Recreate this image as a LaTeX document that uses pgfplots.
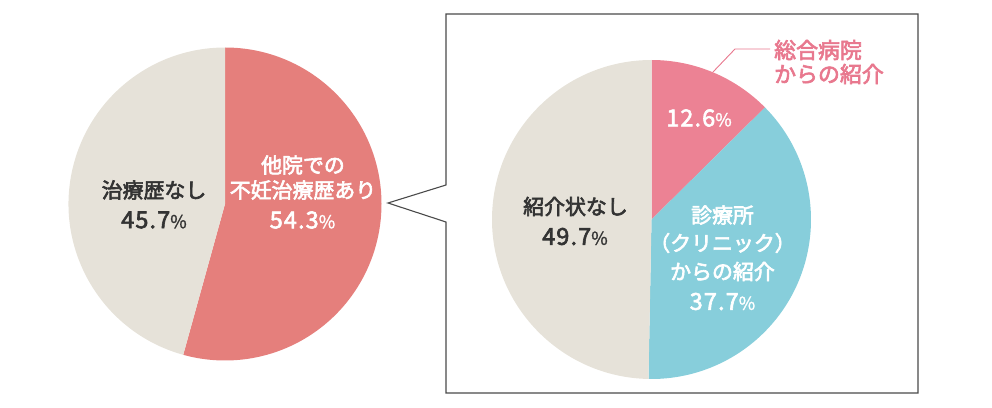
\documentclass[border=0pt]{standalone}
\usepackage{pgfplots}
\usepackage{pgfplotstable}
\pgfplotsset{compat=1.18}
\usepackage{fontspec}
\setmainfont{Noto Sans CJK JP}
\newfontfamily\jpmed{Noto Sans CJK JP}[FakeBold=3]
\newfontfamily\numfont{Noto Sans CJK JP}[FakeBold=2.6, LetterSpace=5]
\newfontfamily\pctfont{Noto Sans CJK JP}[FakeBold=1.2]

\definecolor{leftpink}{HTML}{E57F7C}
\definecolor{rightpink}{HTML}{EC8294}
\definecolor{skyblue}{HTML}{87CEDB}
\definecolor{beige}{HTML}{E6E2D9}
\definecolor{darktext}{HTML}{333333}
\definecolor{labelpink}{HTML}{E8788E}
\definecolor{framegray}{HTML}{4A4A4A}

% shares in percent, clockwise from 12 o'clock
\pgfplotstableread{
share colour
54.3  leftpink
45.7  beige
}\previoustreatment

\pgfplotstableread{
share colour
12.6  rightpink
37.7  skyblue
49.7  beige
}\referral

% #1 table, #2/#3 centre (axis units), #4 radius
\newcommand\piechart[4]{%
  \pgfplotstablegetrowsof{#1}%
  \pgfmathtruncatemacro\lastrow{\pgfplotsretval-1}%
  \def\curangle{90}%
  \pgfplotsforeachungrouped \r in {0,...,\lastrow}{%
    \pgfplotstablegetelem{\r}{share}\of{#1}%
    \pgfmathsetmacro\nextangle{\curangle-3.6*\pgfplotsretval}%
    \pgfplotstablegetelem{\r}{colour}\of{#1}%
    \let\slicecol\pgfplotsretval
    \edef\doslice{\noexpand\fill[\slicecol] (axis cs:#2,#3) -- ++(\curangle:#4bp)
      arc[start angle=\curangle, end angle=\nextangle, radius=#4bp] -- cycle;}%
    \doslice
    \global\let\curangle\nextangle
  }%
}

\newcommand\jp[1]{{\fontsize{21}{25}\selectfont\jpmed #1}}
\newcommand\pct[1]{{\fontsize{23.5}{25}\selectfont\numfont #1}{\fontsize{18}{18}\selectfont\pctfont\%}}

\begin{document}
\begin{tikzpicture}
\useasboundingbox (0,0) rectangle (992bp,408bp);
\begin{axis}[
  anchor=origin, at={(0,0)},
  x=1bp, y=1bp,
  xmin=0, xmax=992, ymin=0, ymax=408,
  hide axis, clip=false,
]
  % callout frame with the notch pointing at the left pie
  \draw[framegray, line width=1.1bp]
    (axis cs:446,223) -- (axis cs:388,205) -- (axis cs:446,186)
    -- (axis cs:446,15) -- (axis cs:918,15) -- (axis cs:918,394)
    -- (axis cs:446,394) -- cycle;

  \piechart{\previoustreatment}{225}{204}{156.5}
  \piechart{\referral}{651.5}{188.5}{159.5}

  % left pie labels
  \node[darktext] at (axis cs:154,218) {\jp{治療歴なし}};
  \node[darktext] at (axis cs:154,188) {\pct{45.7}};
  \node[white] at (axis cs:303,243) {\jp{他院での}};
  \node[white] at (axis cs:303,218) {\jp{不妊治療歴あり}};
  \node[white] at (axis cs:302.5,188) {\pct{54.3}};

  % right pie labels
  \node[darktext] at (axis cs:575.5,201.5) {\jp{紹介状なし}};
  \node[darktext] at (axis cs:575,171.5) {\pct{49.7}};
  \node[white] at (axis cs:699,290) {\pct{12.6}};
  \node[white] at (axis cs:722.5,193) {\jp{診療所}};
  \node[white] at (axis cs:722.5,165) {\jp{（クリニック）}};
  \node[white] at (axis cs:722.5,136.5) {\jp{からの紹介}};
  \node[white] at (axis cs:722.5,106.5) {\pct{37.7}};

  % leader for the small slice
  \draw[labelpink, line width=0.9bp]
    (axis cs:713,336) -- (axis cs:735,359) -- (axis cs:770,359);
  \node[labelpink, anchor=west, inner sep=0pt] at (axis cs:774,358) {\fontsize{22}{25}\selectfont\jpmed 総合病院};
  \node[labelpink, anchor=west, inner sep=0pt] at (axis cs:774,334) {\fontsize{22}{25}\selectfont\jpmed からの紹介};
\end{axis}
\end{tikzpicture}
\end{document}
